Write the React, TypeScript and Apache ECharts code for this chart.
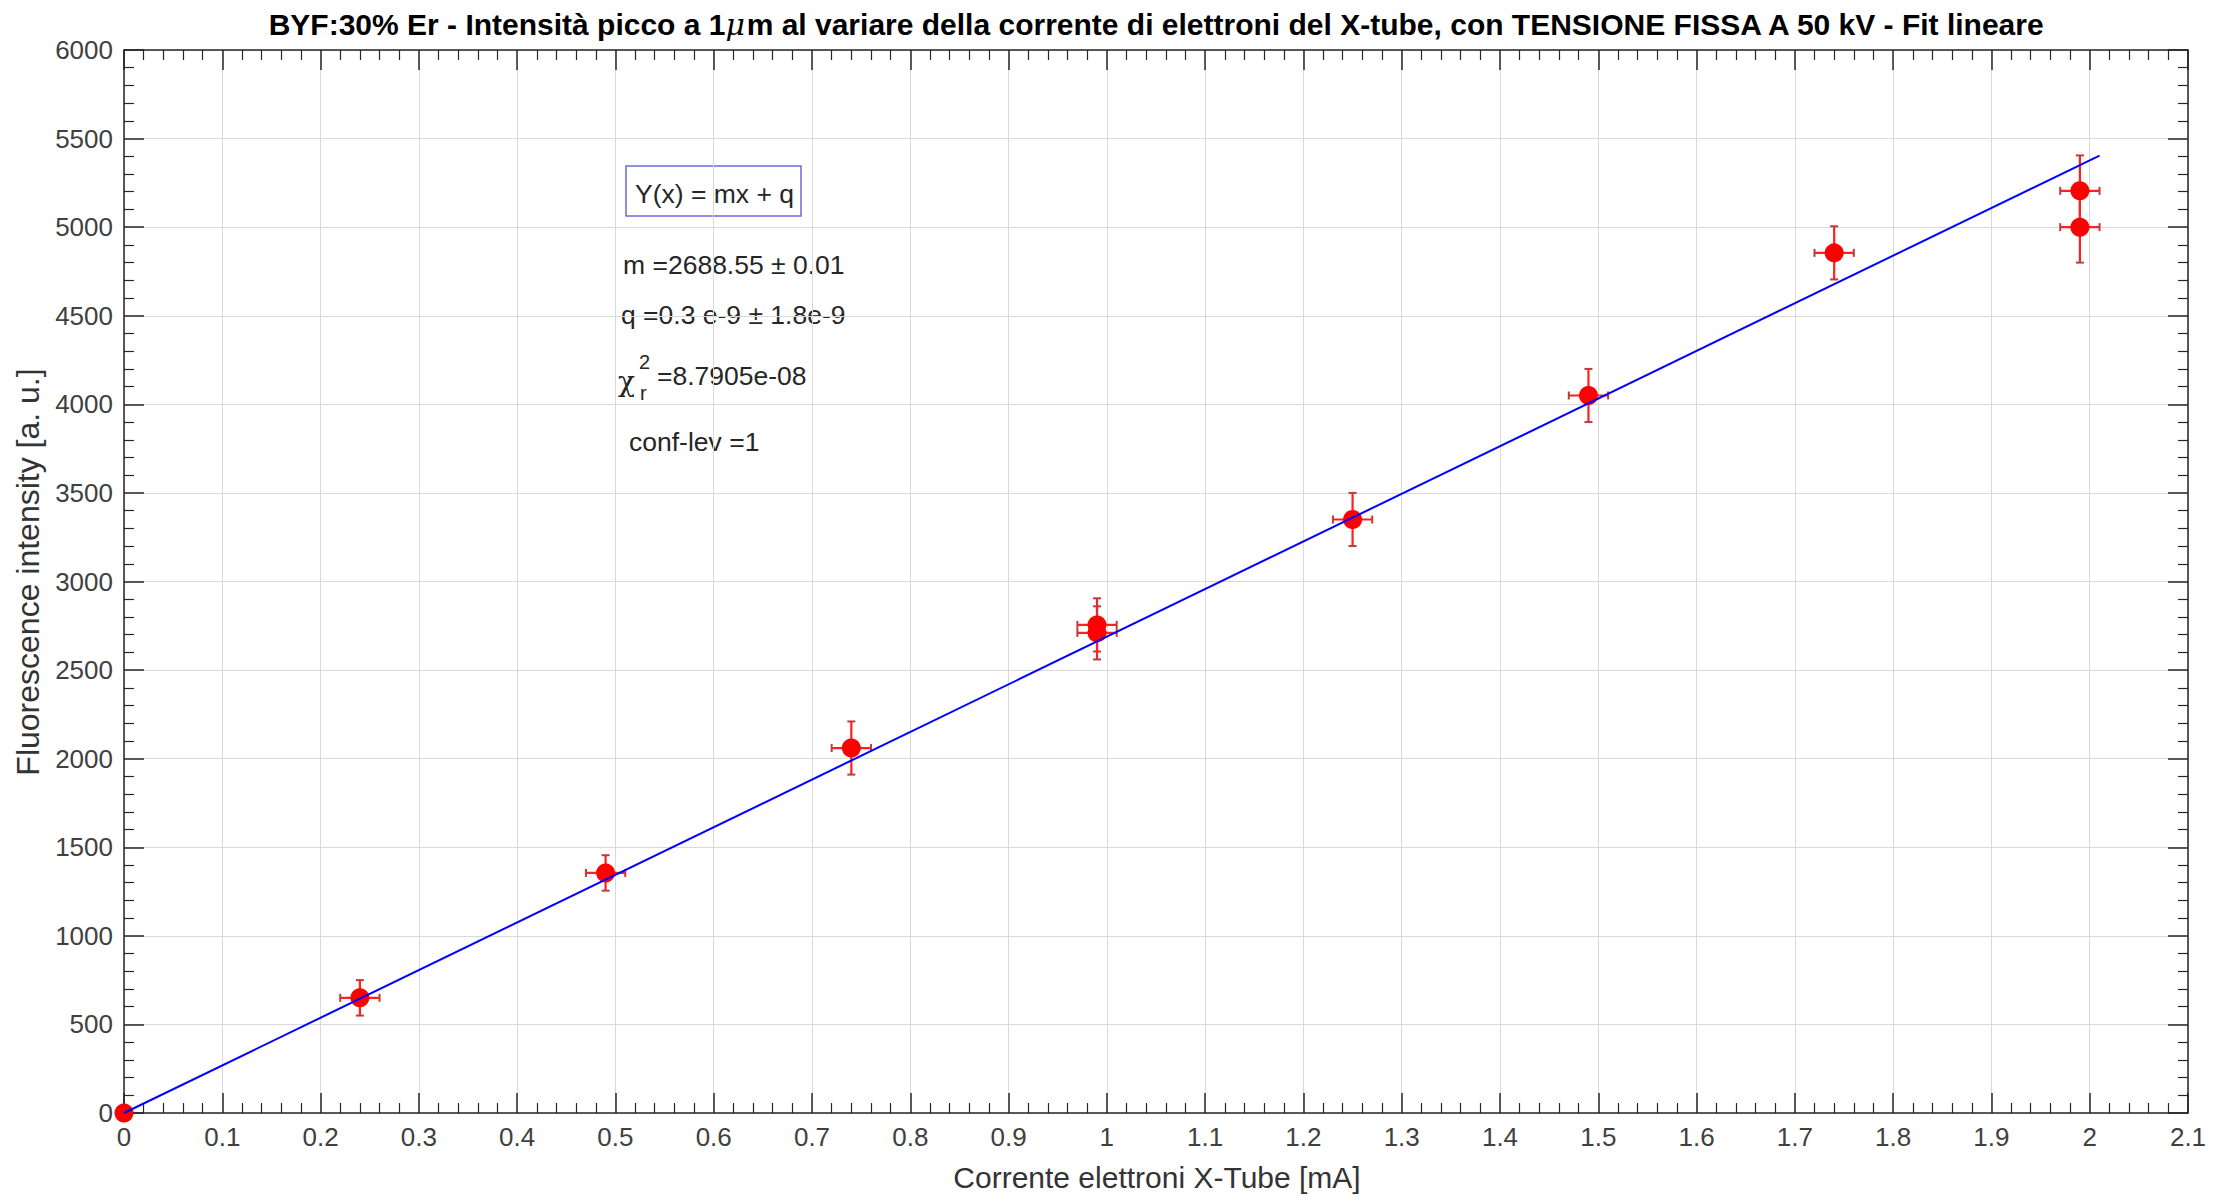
import React, { useEffect, useRef } from "react";
import * as echarts from "echarts";

// ---- data ----
const currentMA = [0, 0.24, 0.49, 0.74, 0.99, 0.99, 1.25, 1.49, 1.74, 1.99, 1.99];
const intensity = [0, 650, 1355, 2060, 2755, 2710, 3350, 4050, 4855, 5205, 5000];
const currentErr = [0, 0.02, 0.02, 0.02, 0.02, 0.02, 0.02, 0.02, 0.02, 0.02, 0.02];
const intensityErr = [0, 100, 100, 150, 150, 150, 150, 150, 150, 200, 200];
const fitX = [0, 2.01];
const fitY = [0, 5404];

const xMin = 0;
const xMax = 2.1;
const xStep = 0.1;
const yMin = 0;
const yMax = 6000;
const yStep = 500;

const titleText =
  "BYF:30% Er - Intensità picco a 1{mu|μ}m al variare della corrente di elettroni del X-tube, con TENSIONE FISSA A 50 kV - Fit lineare";
const xName = "Corrente elettroni X-Tube [mA]";
const yName = "Fluorescence intensity [a. u.]";
const boxText = "Y(x) = mx + q";
const mText = "m =2688.55 ± 0.01";
const qText = "q =0.3 e-9 ± 1.8e-9";
const chiText = "=8.7905e-08";
const confText = "conf-lev =1";

const FONT = "'Liberation Sans', Arial, Helvetica, sans-serif";
const AX = "#262626";
const GRIDC = "#d9d9d9";
const ANN = 26.5;

export default function App() {
  const ref = useRef<HTMLDivElement>(null);

  useEffect(() => {
    if (!ref.current) return;
    const chart = echarts.init(ref.current, null, { renderer: "svg" });

    const pts = currentMA.map((x, i) => [x, intensity[i]]);
    const errs = currentMA.map((x, i) => [x, intensity[i], currentErr[i], intensityErr[i]]);
    const fit = fitX.map((x, i) => [x, fitY[i]]);

    const axisLineStyle = { color: AX, width: 1.5 };
    const tickCommon = {
      axisTick: { show: true, inside: true, length: 20, lineStyle: { color: AX, width: 1.5 } },
      minorTick: { show: true, splitNumber: 5, length: 10, lineStyle: { color: AX, width: 1.2 } },
    };

    const fmtX = (v: number) => String(+v.toFixed(1));
    const fmtY = (v: number) => String(Math.round(v));

    const option: any = {
      animation: false,
      backgroundColor: "#ffffff",
      grid: {
        left: 124,
        right: 31,
        top: 50,
        bottom: 86,
        containLabel: false,
        outerBoundsMode: "none",
      },
      xAxis: [
        {
          type: "value",
          position: "bottom",
          min: xMin,
          max: xMax,
          interval: xStep,
          axisLine: { show: true, onZero: false, lineStyle: axisLineStyle },
          ...tickCommon,
          splitLine: { show: true, lineStyle: { color: GRIDC, width: 1 } },
          axisLabel: { fontSize: 26, color: "#404040", fontFamily: FONT, margin: 11, formatter: fmtX },
        },
        {
          type: "value",
          position: "top",
          min: xMin,
          max: xMax,
          interval: xStep,
          axisLine: { show: true, onZero: false, lineStyle: axisLineStyle },
          ...tickCommon,
          splitLine: { show: false },
          axisLabel: { show: false },
        },
      ],
      yAxis: [
        {
          type: "value",
          position: "left",
          min: yMin,
          max: yMax,
          interval: yStep,
          axisLine: { show: true, onZero: false, lineStyle: axisLineStyle },
          ...tickCommon,
          splitLine: { show: true, lineStyle: { color: GRIDC, width: 1 } },
          axisLabel: { fontSize: 26, color: "#404040", fontFamily: FONT, margin: 11, formatter: fmtY },
        },
        {
          type: "value",
          position: "right",
          min: yMin,
          max: yMax,
          interval: yStep,
          axisLine: { show: true, onZero: false, lineStyle: axisLineStyle },
          ...tickCommon,
          splitLine: { show: false },
          axisLabel: { show: false },
        },
      ],
      series: [
        {
          type: "custom",
          name: "errors",
          xAxisIndex: 0,
          yAxisIndex: 0,
          z: 2,
          clip: false,
          encode: { x: 0, y: 1 },
          data: errs,
          renderItem: (params: any, api: any) => {
            const x = api.value(0);
            const y = api.value(1);
            const ex = api.value(2);
            const ey = api.value(3);
            if (!ex && !ey) return { type: "group", children: [] };
            const top = api.coord([x, y + ey]);
            const bot = api.coord([x, y - ey]);
            const l = api.coord([x - ex, y]);
            const r = api.coord([x + ex, y]);
            const cap = 4;
            const st = { stroke: "#ff2020", lineWidth: 2.2 };
            const cst = { stroke: "#c03a3a", lineWidth: 2 };
            return {
              type: "group",
              children: [
                { type: "line", shape: { x1: top[0], y1: top[1], x2: bot[0], y2: bot[1] }, style: st },
                { type: "line", shape: { x1: l[0], y1: l[1], x2: r[0], y2: r[1] }, style: st },
                { type: "line", shape: { x1: top[0] - cap, y1: top[1], x2: top[0] + cap, y2: top[1] }, style: cst },
                { type: "line", shape: { x1: bot[0] - cap, y1: bot[1], x2: bot[0] + cap, y2: bot[1] }, style: cst },
                { type: "line", shape: { x1: l[0], y1: l[1] - cap, x2: l[0], y2: l[1] + cap }, style: cst },
                { type: "line", shape: { x1: r[0], y1: r[1] - cap, x2: r[0], y2: r[1] + cap }, style: cst },
              ],
            };
          },
        },
        {
          type: "scatter",
          name: "data",
          z: 3,
          clip: false,
          symbol: "circle",
          symbolSize: 19,
          itemStyle: { color: "#ff0000", opacity: 1 },
          data: pts,
        },
        {
          type: "line",
          name: "fit",
          z: 4,
          showSymbol: false,
          symbol: "none",
          lineStyle: { color: "#0000ff", width: 2 },
          data: fit,
        },
      ],
      graphic: [
        {
          type: "text",
          x: 1157,
          y: 24,
          style: {
            text: titleText,
            fill: "#000000",
            font: `bold 30px ${FONT}`,
            textAlign: "center",
            textVerticalAlign: "middle",
            rich: {
              mu: { font: `italic 30px 'DejaVu Serif', serif`, fill: "#000000" },
            },
          },
        },
        {
          type: "text",
          x: 1157,
          y: 1177,
          style: {
            text: xName,
            fill: "#333333",
            font: `30px ${FONT}`,
            textAlign: "center",
            textVerticalAlign: "middle",
          },
        },
        {
          type: "text",
          x: 28,
          y: 572,
          rotation: Math.PI / 2,
          style: {
            text: yName,
            fill: "#333333",
            font: `32px ${FONT}`,
            textAlign: "center",
            textVerticalAlign: "middle",
          },
        },
        {
          type: "rect",
          shape: { x: 626, y: 166, width: 175, height: 50 },
          style: { fill: "none", stroke: "#6b6bd8", lineWidth: 1.5 },
        },
        {
          type: "text",
          x: 635,
          y: 194,
          style: { text: boxText, fill: AX, font: `${ANN}px ${FONT}`, textVerticalAlign: "middle" },
        },
        {
          type: "text",
          x: 623,
          y: 265,
          style: { text: mText, fill: AX, font: `${ANN}px ${FONT}`, textVerticalAlign: "middle" },
        },
        {
          type: "text",
          x: 621,
          y: 315,
          style: { text: qText, fill: AX, font: `${ANN}px ${FONT}`, textVerticalAlign: "middle" },
        },
        {
          type: "text",
          x: 618,
          y: 381,
          style: { text: "χ", fill: AX, font: `28px 'DejaVu Serif', serif`, textVerticalAlign: "middle" },
        },
        {
          type: "text",
          x: 639,
          y: 362,
          style: { text: "2", fill: AX, font: `20px ${FONT}`, textVerticalAlign: "middle" },
        },
        {
          type: "text",
          x: 640,
          y: 393,
          style: { text: "r", fill: AX, font: `20px ${FONT}`, textVerticalAlign: "middle" },
        },
        {
          type: "text",
          x: 657,
          y: 376,
          style: { text: chiText, fill: AX, font: `${ANN}px ${FONT}`, textVerticalAlign: "middle" },
        },
        {
          type: "text",
          x: 629,
          y: 442,
          style: { text: confText, fill: AX, font: `${ANN}px ${FONT}`, textVerticalAlign: "middle" },
        },
      ],
    };

    chart.setOption(option);
    return () => chart.dispose();
  }, []);

  return (
    <div
      ref={ref}
      style={{ position: "fixed", left: 0, top: 0, width: 2219, height: 1199, background: "#ffffff" }}
    />
  );
}
